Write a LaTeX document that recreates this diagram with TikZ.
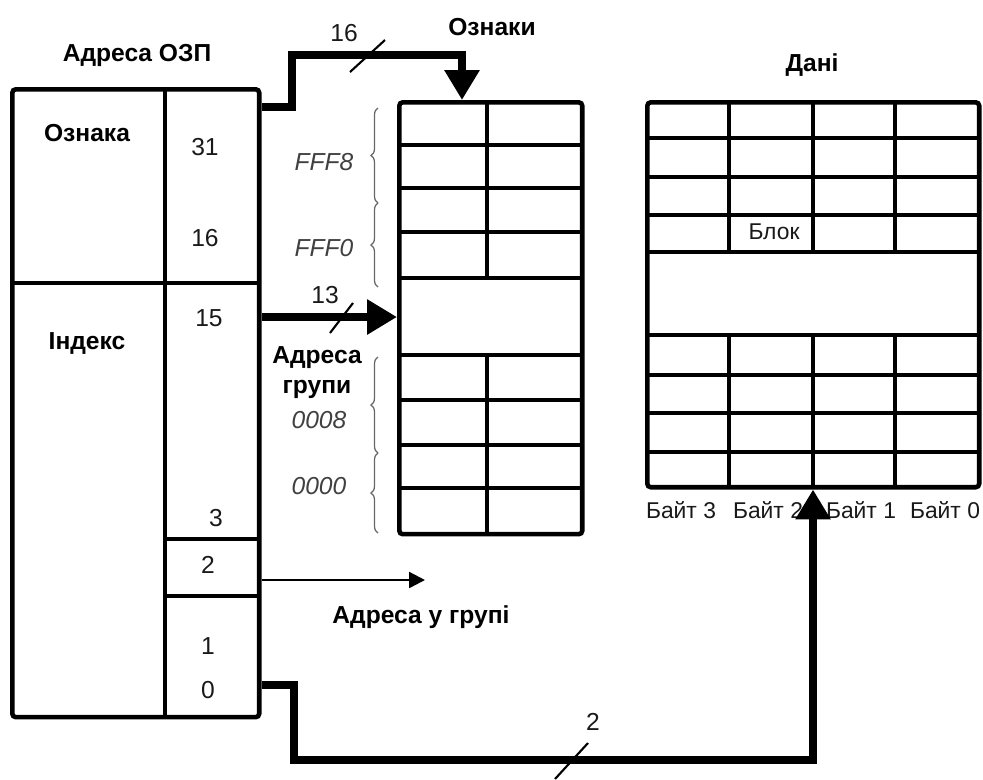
\documentclass[tikz,border=0pt]{standalone}
\usepackage{fontspec}
\setmainfont{Liberation Sans}
\usetikzlibrary{arrows.meta, positioning, calc, decorations.pathreplacing}

\tikzset{
  frame/.style={draw, line width=2.6pt, rounded corners=2pt, inner sep=0pt, anchor=north west},
  cell/.style={line width=2pt},
  bus/.style={line width=4.8pt, -{Triangle[length=17pt, width=19pt]}},
  thinarrow/.style={line width=1.3pt, -{Triangle[length=9pt, width=9pt]}},
  slash/.style={line width=1.2pt},
  lbl/.style={font=\fontsize{14}{17}\selectfont\bfseries, align=center},
  num/.style={font=\fontsize{14}{16}\selectfont, text=black!90},
  hexlbl/.style={font=\fontsize{14}{16}\selectfont\itshape, text=black!75},
  bytelbl/.style={font=\fontsize{13}{15}\selectfont, text=black!90},
  brc/.style={decorate, decoration={brace, amplitude=4pt}, draw=black!60, line width=0.7pt},
}

\begin{document}
\begin{tikzpicture}[x=0.02cm, y=-0.02cm]
  \useasboundingbox (0,0) rectangle (983,779);

  % RAM address
  \node[frame, minimum width=4.94cm, minimum height=12.56cm] (ram) at (10,87) {};
  \draw[cell] (165,87) -- (165,715);
  \draw[cell] (10,283) -- (257,283);
  \draw[cell] (165,539) -- (257,539);
  \draw[cell] (165,596) -- (257,596);

  \node[lbl] (ramtitle) at (137,55) {Адреса ОЗП};
  \node[lbl] (tagfield) at (87,133) {Ознака};
  \node[lbl] (indexfield) at (87,343) {Індекс};
  \node[num] (b31) at (205,147) {31};
  \node[num] (b16) at (205,238) {16};
  \node[num] (b15) at (209,318) {15};
  \node[num] (b3) at (216,518) {3};
  \node[num] (b2) at (208,565) {2};
  \node[num] (b1) at (208,646) {1};
  \node[num] (b0) at (208,690) {0};

  % Tags
  \node[frame, minimum width=3.66cm, minimum height=8.64cm] (tags) at (397,100) {};
  \foreach \y in {145,188,232,278,355,400,445,488}
    \draw[cell] (397,\y) -- (580,\y);
  \draw[cell] (487,100) -- (487,278);
  \draw[cell] (487,355) -- (487,532);

  \node[lbl] (tagstitle) at (492,27) {Ознаки};
  \node[hexlbl] (fff8) at (324,162) {FFF8};
  \node[hexlbl] (fff0) at (324,248) {FFF0};
  \node[hexlbl] (h0008) at (319,420) {0008};
  \node[hexlbl] (h0000) at (319,486) {0000};
  \draw[brc] (378,203) -- (378,108);
  \draw[brc] (378,287) -- (378,203);
  \draw[brc] (378,453) -- (378,357);
  \draw[brc] (378,533) -- (378,453);
  \node[lbl, inner sep=0pt] (setaddr) at (317,373) {Адреса\\групи};

  % Data
  \node[frame, minimum width=6.64cm, minimum height=7.7cm] (data) at (645,100) {};
  \foreach \y in {138,177,215,252,335,375,413,452}
    \draw[cell] (645,\y) -- (977,\y);
  \foreach \x in {729,813,895} {
    \draw[cell] (\x,100) -- (\x,252);
    \draw[cell] (\x,335) -- (\x,485);
  }

  \node[lbl] (datatitle) at (812,65) {Дані};
  \node[bytelbl] (block) at (774,232) {Блок};
  \node[bytelbl] (byte3) at (681,510) {Байт 3};
  \node[bytelbl] (byte2) at (768,510) {Байт 2};
  \node[bytelbl] (byte1) at (861,510) {Байт 1};
  \node[bytelbl] (byte0) at (945,510) {Байт 0};

  % Buses
  \draw[bus] (ram.east |- 0,107) -| (292,55) -| (tags.north -| 462,0);
  \node[num] (w16) at (344,33) {16};
  \draw[slash] (350,72) -- (385,40);

  \draw[bus] (ram.east |- 0,317) -- (tags.west |- 0,317);
  \node[num] (w13) at (325,295) {13};
  \draw[slash] (330,333) -- (353,303);

  \draw[thinarrow] (ram.east |- 0,580) -- (425,580);
  \node[lbl] (inset) at (421,617) {Адреса у групі};

  \draw[bus] (ram.east |- 0,685) -| (294,760) -| (data.south -| 813,0);
  \node[num] (w2) at (593,722) {2};
  \draw[slash] (555,779) -- (588,743);
\end{tikzpicture}
\end{document}
